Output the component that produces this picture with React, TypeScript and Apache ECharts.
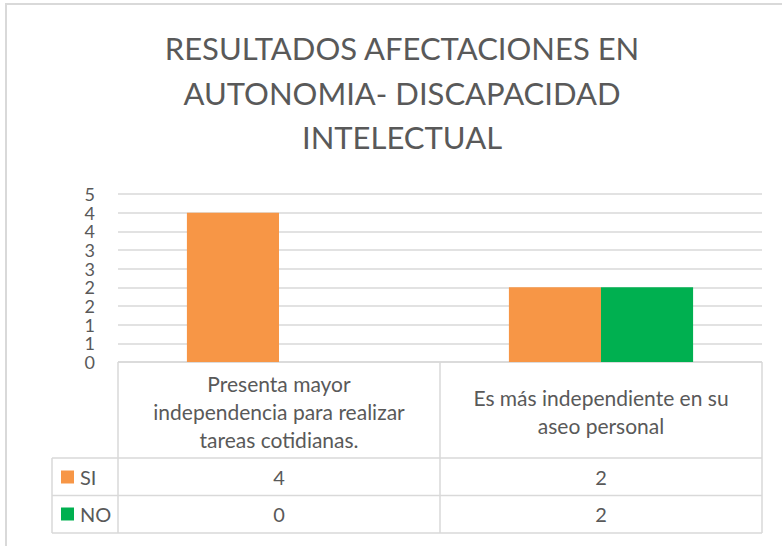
import React, { useEffect, useRef } from "react";
import * as echarts from "echarts";

const titleLines = ["RESULTADOS AFECTACIONES EN", "AUTONOMIA- DISCAPACIDAD", "INTELECTUAL"];
const categories = [
  "Presenta mayor independencia para realizar tareas cotidianas.",
  "Es más independiente en su aseo personal",
];
const seriesNames = ["SI", "NO"];
const siValues = [4, 2];
const noValues = [0, 2];
const seriesColors = ["#F79646", "#00B050"];
const yMin = 0;
const yMax = 4.5;
const yInterval = 0.5;

const FONT = "Lato, 'Open Sans', sans-serif";
const TXT = "#595959";
const LINE = "#d9d9d9";

function wrap(s: string, maxChars: number): string {
  const words = s.split(" ");
  const lines: string[] = [];
  let cur = "";
  for (const w of words) {
    const t = cur ? cur + " " + w : w;
    if (t.length > maxChars && cur) {
      lines.push(cur);
      cur = w;
    } else cur = t;
  }
  if (cur) lines.push(cur);
  return lines.join("\n");
}

export default function App() {
  const ref = useRef<HTMLDivElement>(null);
  useEffect(() => {
    document.body.style.margin = "0";
    const chart = echarts.init(ref.current!, null, { renderer: "svg" });
    const gridLeft = 118;
    const gridRight = 20;
    const gridTop = 194;
    const gridBottom = 184;
    chart.setOption({
      animation: false,
      backgroundColor: "#ffffff",
      title: {
        text: titleLines.join("\n"),
        left: 397,
        top: 21,
        textAlign: "center",
        textStyle: {
          fontFamily: FONT,
          fontSize: 31,
          fontWeight: "normal",
          color: TXT,
          lineHeight: 44.5,
        },
      },
      legend: {
        orient: "vertical",
        left: 61,
        top: 467,
        padding: 0,
        itemWidth: 13,
        itemHeight: 13,
        itemGap: 17,
        icon: "rect",
        selectedMode: false,
        textStyle: { fontFamily: FONT, fontSize: 20, color: TXT, padding: [0, 0, 0, 1] },
        data: seriesNames,
      },
      grid: { left: gridLeft, right: gridRight, top: gridTop, bottom: gridBottom },
      xAxis: {
        type: "category",
        data: categories,
        axisLine: { show: false },
        axisTick: { show: false },
        axisLabel: {
          interval: 0,
          formatter: (v: string) => wrap(v, 27),
          fontFamily: FONT,
          fontSize: 21,
          color: TXT,
          lineHeight: 28,
          margin: 49,
          verticalAlign: "middle",
        },
      },
      yAxis: {
        type: "value",
        min: yMin,
        max: yMax,
        interval: yInterval,
        axisLine: { show: false },
        axisTick: { show: false },
        splitLine: { lineStyle: { color: LINE, width: 1.5 } },
        axisLabel: {
          formatter: (v: number) => String(Math.round(v)),
          fontFamily: FONT,
          fontSize: 18,
          lineHeight: 18,
          color: TXT,
          margin: 23,
          showMinLabel: true,
          showMaxLabel: true,
          hideOverlap: false,
        },
      },
      series: [
        {
          name: seriesNames[0],
          type: "bar",
          data: siValues,
          barWidth: "28.6%",
          barGap: "0%",
          itemStyle: { color: seriesColors[0] },
        },
        {
          name: seriesNames[1],
          type: "bar",
          data: noValues,
          barWidth: "28.6%",
          barGap: "0%",
          itemStyle: { color: seriesColors[1] },
        },
      ],
    });

    const w = chart.getWidth();
    const cx = categories.map((c) => chart.convertToPixel({ xAxisIndex: 0 }, c) as number);
    const y0 = chart.convertToPixel({ yAxisIndex: 0 }, 0) as number;
    const left = gridLeft;
    const right = w - gridRight;
    const mid = (cx[0] + cx[1]) / 2;
    const headerBottom = y0 + 96;
    const rowH = 37.5;
    const legendLeft = 52;
    const rowsBottom = headerBottom + rowH * seriesNames.length;
    const ls = { stroke: LINE, lineWidth: 1.5 };
    const lines: any[] = [];
    const addLine = (x1: number, y1: number, x2: number, y2: number) =>
      lines.push({ type: "line", shape: { x1, y1, x2, y2 }, style: ls, silent: true });
    addLine(left, y0, right, y0);
    addLine(left, y0, left, rowsBottom);
    addLine(mid, y0, mid, rowsBottom);
    addLine(right, y0, right, rowsBottom);
    addLine(legendLeft, headerBottom, legendLeft, rowsBottom);
    for (let r = 0; r <= seriesNames.length; r++) {
      const yy = headerBottom + rowH * r;
      addLine(legendLeft, yy, right, yy);
    }
    const allValues = [siValues, noValues];
    const texts: any[] = [];
    allValues.forEach((vals, r) => {
      vals.forEach((v, i) => {
        texts.push({
          type: "text",
          x: cx[i],
          y: headerBottom + rowH * r + rowH / 2,
          silent: true,
          style: {
            text: String(v),
            fontFamily: FONT,
            fontSize: 20,
            fill: TXT,
            align: "center",
            verticalAlign: "middle",
          },
        });
      });
    });
    lines.push({
      type: "polyline",
      shape: { points: [[6, 546], [6, 4], [782, 4]] },
      style: { stroke: LINE, lineWidth: 2, fill: "none" },
      silent: true,
    });
    chart.setOption({ graphic: [...lines, ...texts] });
    return () => chart.dispose();
  }, []);
  return <div ref={ref} style={{ width: 782, height: 546 }} />;
}
